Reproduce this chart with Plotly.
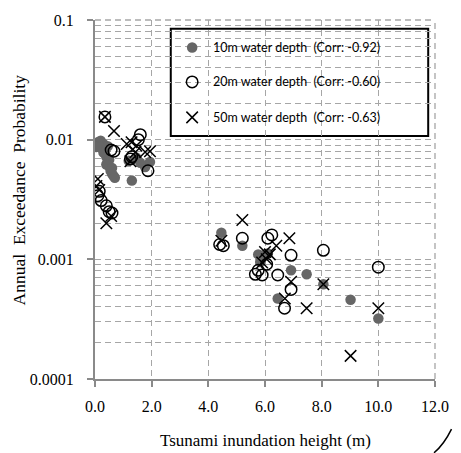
import plotly.graph_objects as go

# ---- data ----
h10 = [0.1, 0.2, 0.3, 0.25, 0.35, 0.4, 0.45, 0.5, 0.55, 0.6, 0.65, 0.7, 1.3, 1.19, 1.77, 1.94,
       0.15, 0.3, 0.45, 0.5, 0.4, 0.05, 0.6, 1.45, 1.6,
       4.46, 5.2, 5.76, 6.0, 6.1, 5.83, 6.92, 7.47, 8.06, 6.45, 9.02, 10.0]
p10 = [0.0095, 0.0098, 0.0092, 0.0085, 0.008, 0.0072, 0.0065, 0.006, 0.0055, 0.0052, 0.005, 0.0048, 0.00455, 0.00665, 0.0059, 0.0065,
       0.0088, 0.0078, 0.0088, 0.0068, 0.0062, 0.0087, 0.0058, 0.0071, 0.0064,
       0.00167, 0.0013, 0.0011, 0.0011, 0.00112, 0.00095, 0.00081, 0.00075, 0.00062, 0.00047, 0.00046, 0.00032]

h20 = [0.35, 0.57, 0.67, 1.25, 1.53, 1.6, 1.87, 1.3,
       0.1, 0.15, 0.22, 0.4, 0.5, 0.6,
       4.4, 4.53, 5.2, 6.24, 5.76, 5.66, 6.06, 6.1, 6.92, 8.06, 6.45, 6.92, 6.69, 10.0, 5.9]
p20 = [0.0155, 0.0082, 0.008, 0.0069, 0.0100, 0.011, 0.0055, 0.0072,
       0.0034, 0.0037, 0.0031, 0.0028, 0.0025, 0.00244,
       0.00133, 0.0013, 0.0015, 0.0016, 0.00081, 0.00075, 0.00091, 0.0015, 0.00108, 0.00119, 0.00074, 0.00056, 0.00039, 0.00086, 0.00074]

h50 = [0.35, 0.67, 1.12, 1.29, 1.46, 1.43, 1.77, 1.94, 1.25,
       0.1, 0.05, 0.15, 0.4, 0.57,
       5.2, 4.46, 5.9, 6.06, 6.17, 6.86, 6.4, 6.0, 6.92, 6.7, 7.47, 8.06, 10.0, 9.02]
p50 = [0.0155, 0.0118, 0.0092, 0.0095, 0.0089, 0.0079, 0.0079, 0.008, 0.0066,
       0.0047, 0.0041, 0.0038, 0.002, 0.0023,
       0.00213, 0.00143, 0.00094, 0.001, 0.0011, 0.0015, 0.0013, 0.00115, 0.00065, 0.00047, 0.00039, 0.00062, 0.00039, 0.000156]

legend_labels = ["10m water depth  (Corr: -0.92)",
                 "20m water depth  (Corr: -0.60)",
                 "50m water depth  (Corr: -0.63)"]
y_tickvals = [0.0001, 0.001, 0.01, 0.1]
y_ticktext = ["0.0001", "0.001", "0.01", "0.1"]

W, H = 461, 453
L, R, T, B = 95, 445, 14, 379

def px(x):
    return (x - L) / (R - L)

def py(y):
    return (B - y) / (B - T)

serif = "Liberation Serif"
grid = "#a6a6a6"
axc = "#8a8a8a"
dash = "6px,4px"
NB = "\u00a0"

fig = go.Figure()
fig.add_trace(go.Scatter(x=h10, y=p10, mode="markers",
                         marker=dict(symbol="circle", size=10.5, color="#666666"), showlegend=False))
fig.add_trace(go.Scatter(x=h20, y=p20, mode="markers",
                         marker=dict(symbol="circle-open", size=11.5, color="black", line=dict(width=1.5)), showlegend=False))
fig.add_trace(go.Scatter(x=h50, y=p50, mode="markers",
                         marker=dict(symbol="x-thin-open", size=11.5, color="black", line=dict(width=1.5, color="black")), showlegend=False))

# dashed frame lines at top and right edges
fig.add_shape(type="line", xref="paper", yref="paper", x0=0, x1=1, y0=1, y1=1,
              line=dict(color=grid, width=1.3, dash=dash), layer="between")
fig.add_shape(type="line", xref="paper", yref="paper", x0=1, x1=1, y0=0, y1=1,
              line=dict(color=grid, width=1.3, dash=dash), layer="between")

# legend (manual) on an overlay axis
leg_y = [42, 77, 113]
leg_syms = [dict(symbol="circle", size=10.5, color="#666666"),
            dict(symbol="circle-open", size=11.5, color="black", line=dict(width=1.5)),
            dict(symbol="x-thin-open", size=11.5, color="black", line=dict(width=1.5, color="black"))]

fig.add_shape(type="rect", xref="paper", yref="paper",
              x0=px(173), x1=px(438), y0=py(23), y1=py(132),
              line=dict(color="black", width=2), fillcolor="white", layer="between")
for i in range(3):
    fig.add_trace(go.Scatter(x=[px(195)], y=[py(leg_y[i])], mode="markers", marker=leg_syms[i],
                             xaxis="x2", yaxis="y2", showlegend=False, cliponaxis=False))
    fig.add_annotation(x=px(214), y=py(leg_y[i]), xref="paper", yref="paper", text=legend_labels[i],
                       showarrow=False, xanchor="left", yanchor="middle",
                       font=dict(family="Lato", size=12.5, color="black"))

fig.add_annotation(x=px(17), y=py(187), xref="paper", yref="paper",
                   text=f"Annual{NB}{NB}Exceedance{NB}{NB}Probability",
                   textangle=-90, showarrow=False, xanchor="center", yanchor="middle",
                   font=dict(family=serif, size=17.5, color="black"))
fig.add_annotation(x=px(271), y=py(442), xref="paper", yref="paper", text="Tsunami inundation height (m)",
                   showarrow=False, xanchor="center", yanchor="middle",
                   font=dict(family=serif, size=17, color="black"))

# small arc at bottom right corner
fig.add_shape(type="path", xref="paper", yref="paper",
              path=f"M {px(444)},{py(454)} Q {px(454)},{py(446)} {px(462)},{py(430)}",
              line=dict(color="black", width=1.5))

fig.update_layout(
    width=W, height=H,
    margin=dict(l=L, r=W - R, t=T, b=H - B),
    paper_bgcolor="white", plot_bgcolor="white",
    showlegend=False,
    xaxis=dict(range=[0, 12], dtick=2, tick0=0, tickformat=".1f",
               showgrid=True, gridcolor=grid, griddash=dash, gridwidth=1.3,
               showline=True, linecolor=axc, linewidth=2, ticks="outside", ticklen=6, tickcolor=axc,
               tickwidth=2, zeroline=False, ticklabelstandoff=6,
               tickfont=dict(family=serif, size=16, color="black")),
    yaxis=dict(type="log", range=[-4, -1], tickvals=y_tickvals, ticktext=y_ticktext,
               showgrid=True, gridcolor=grid, griddash=dash, gridwidth=1.3,
               minor=dict(dtick="D1", showgrid=True, gridcolor=grid, griddash=dash, gridwidth=1.3),
               showline=True, linecolor=axc, linewidth=2, ticks="outside", ticklen=6, tickcolor=axc,
               tickwidth=2, zeroline=False, ticklabelstandoff=10,
               tickfont=dict(family=serif, size=16, color="black")),
    xaxis2=dict(range=[0, 1], overlaying="x", visible=False, fixedrange=True),
    yaxis2=dict(range=[0, 1], overlaying="y", visible=False, fixedrange=True),
)

fig.write_html("out.html")
